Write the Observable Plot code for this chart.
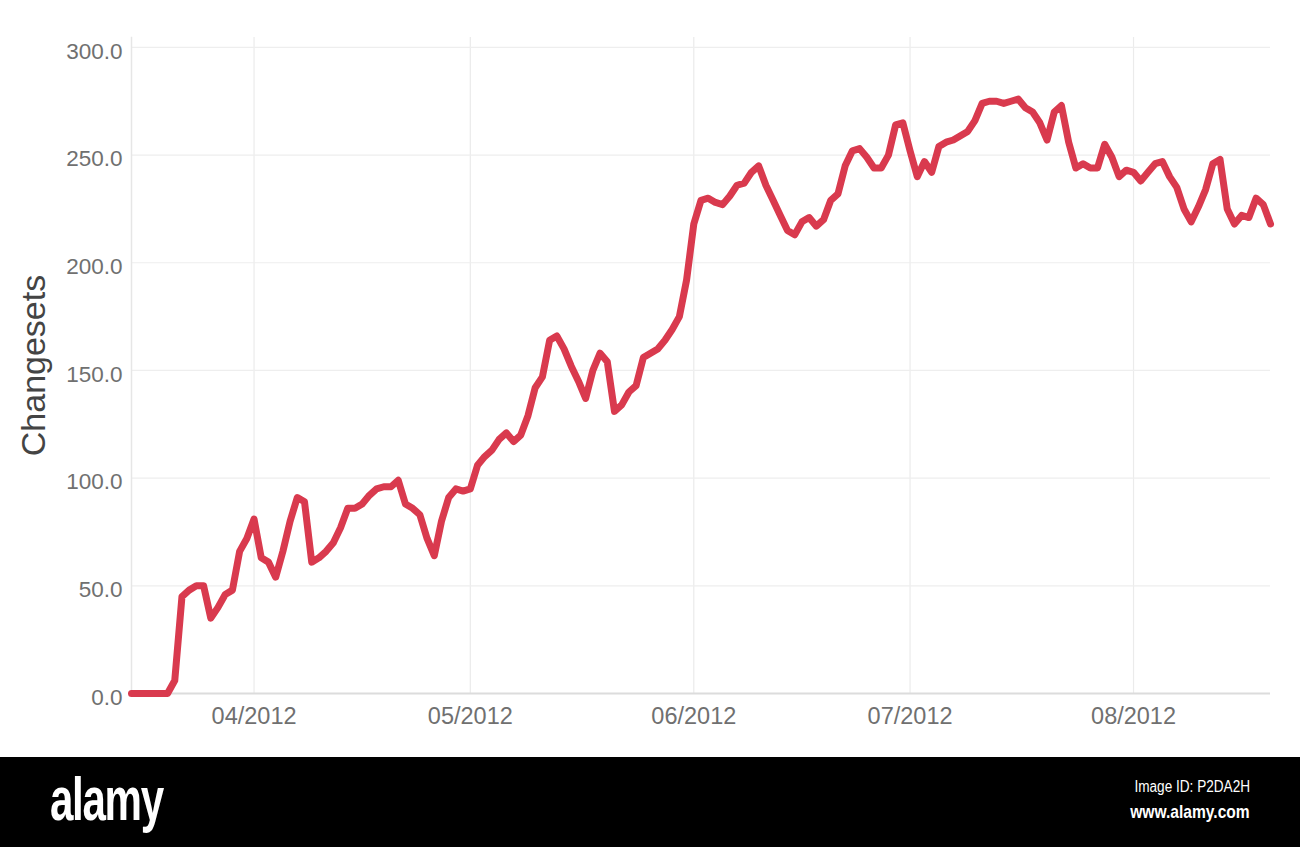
<!DOCTYPE html>
<html><head><meta charset="utf-8">
<script src="https://cdn.jsdelivr.net/npm/d3@7"></script>
<script src="https://cdn.jsdelivr.net/npm/@observablehq/plot@0.6"></script>
<style>
html,body{margin:0;padding:0;background:#fff}
body{width:1300px;height:847px;overflow:hidden;font-family:"Liberation Sans",Arial,sans-serif}
#chart{height:757px}
#footer{height:90px;background:#000;position:relative;color:#fff;font-family:"Liberation Sans",Arial,sans-serif}
#logo{position:absolute;left:50px;top:6px;font-weight:bold;font-size:62px;letter-spacing:-2px;transform:scaleX(0.68);transform-origin:left top}
#imgid{position:absolute;right:50px;top:21px;font-size:16px;transform:scaleX(0.85);transform-origin:right top}
#www{position:absolute;right:50px;top:44px;font-weight:bold;font-size:19px;transform:scaleX(0.82);transform-origin:right top}
</style></head>
<body>
<div id="chart"></div>
<div id="footer"><div id="logo">alamy</div><div id="imgid">Image ID: P2DA2H</div><div id="www">www.alamy.com</div></div>
<script>
const dates = ["2012-03-15","2012-03-20","2012-03-21","2012-03-22","2012-03-23","2012-03-24","2012-03-25","2012-03-26","2012-03-27","2012-03-28","2012-03-29","2012-03-30","2012-03-31",
"2012-04-01","2012-04-02","2012-04-03","2012-04-04","2012-04-05","2012-04-06","2012-04-07","2012-04-08","2012-04-09","2012-04-10","2012-04-11","2012-04-12","2012-04-13","2012-04-14","2012-04-15","2012-04-16","2012-04-17","2012-04-18","2012-04-19","2012-04-20","2012-04-21","2012-04-22","2012-04-23","2012-04-24","2012-04-25","2012-04-26","2012-04-27","2012-04-28","2012-04-29","2012-04-30",
"2012-05-01","2012-05-02","2012-05-03","2012-05-04","2012-05-05","2012-05-06","2012-05-07","2012-05-08","2012-05-09","2012-05-10","2012-05-11","2012-05-12","2012-05-13","2012-05-14","2012-05-15","2012-05-16","2012-05-17","2012-05-18","2012-05-19","2012-05-20","2012-05-21","2012-05-22","2012-05-23","2012-05-24","2012-05-25","2012-05-26","2012-05-27","2012-05-28","2012-05-29","2012-05-30","2012-05-31",
"2012-06-01","2012-06-02","2012-06-03","2012-06-04","2012-06-05","2012-06-06","2012-06-07","2012-06-08","2012-06-09","2012-06-10","2012-06-11","2012-06-12","2012-06-13","2012-06-14","2012-06-15","2012-06-16","2012-06-17","2012-06-18","2012-06-19","2012-06-20","2012-06-21","2012-06-22","2012-06-23","2012-06-24","2012-06-25","2012-06-26","2012-06-27","2012-06-28","2012-06-29","2012-06-30",
"2012-07-01","2012-07-02","2012-07-03","2012-07-04","2012-07-05","2012-07-06","2012-07-07","2012-07-08","2012-07-09","2012-07-10","2012-07-11","2012-07-12","2012-07-13","2012-07-14","2012-07-15","2012-07-16","2012-07-17","2012-07-18","2012-07-19","2012-07-20","2012-07-21","2012-07-22","2012-07-23","2012-07-24","2012-07-25","2012-07-26","2012-07-27","2012-07-28","2012-07-29","2012-07-30","2012-07-31",
"2012-08-01","2012-08-02","2012-08-03","2012-08-04","2012-08-05","2012-08-06","2012-08-07","2012-08-08","2012-08-09","2012-08-10","2012-08-11","2012-08-12","2012-08-13","2012-08-14","2012-08-15","2012-08-16","2012-08-17","2012-08-18","2012-08-19","2012-08-20"];
const changesets = [0,0,6,45,48,50,50,35,40,46,48,66,72,
81,63,61,54,66,80,91,89,61,63,66,70,77,86,86,88,92,95,96,96,99,88,86,83,72,64,80,91,95,94,
95,106,110,113,118,121,117,120,129,142,147,164,166,160,152,145,137,150,158,154,131,134,140,143,156,158,160,164,169,175,192,
218,229,230,228,227,231,236,237,242,245,236,229,222,215,213,219,221,217,220,229,232,245,252,253,249,244,244,250,264,265,
252,240,247,242,254,256,257,259,261,266,274,275,275,274,275,276,272,270,265,257,270,273,256,244,246,244,244,255,249,240,243,
242,238,242,246,247,240,235,225,219,226,234,246,248,225,218,222,221,230,227,218];
const xTicks = ["2012-04-01","2012-05-01","2012-06-01","2012-07-01","2012-08-01"];
const yTicks = [0,50,100,150,200,250,300];
const xDomain = ["2012-03-15","2012-08-20"];
const yLabel = "Changesets";

const data = dates.map((d,i) => ({date: new Date(d), value: changesets[i]}));

const chart = Plot.plot({
  width: 1300,
  height: 757,
  marginLeft: 131,
  marginRight: 30,
  marginTop: 37,
  marginBottom: 64,
  style: {fontFamily: "'Liberation Sans', Arial, sans-serif", background: "#fff", color: "#777"},
  x: {type: "utc", domain: xDomain.map(d => new Date(d))},
  y: {domain: [0, 304.6]},
  marks: [
    Plot.gridX(xTicks.map(d => new Date(d)), {stroke: "#ebebeb", strokeOpacity: 1, strokeWidth: 1.2}),
    Plot.gridY(yTicks, {stroke: "#eeeeee", strokeOpacity: 1, strokeWidth: 1.2}),
    Plot.frame({anchor: "left", stroke: "#e6e6e6", strokeWidth: 1.5}),
    Plot.ruleY([0], {stroke: "#dcdcdc", strokeWidth: 2}),
    Plot.axisX(xTicks.map(d => new Date(d)), {tickSize: 0, tickPadding: 14, fontSize: 23.5, fill: "#707070", tickFormat: d3.utcFormat("%m/%Y"), label: null}),
    Plot.axisY(yTicks, {tickSize: 0, tickPadding: 9, fontSize: 22.5, fill: "#707070", dy: 4, tickFormat: d3.format(".1f"), label: null}),
    Plot.text([yLabel], {frameAnchor: "left", dx: -97, rotate: -90, textAnchor: "middle", lineAnchor: "middle", fontSize: 34, fill: "#444"}),
    Plot.lineY(data, {x: "date", y: "value", stroke: "#d93a4e", strokeWidth: 7, strokeLinejoin: "round", strokeLinecap: "round"})
  ]
});
document.getElementById("chart").appendChild(chart);
</script>
</body></html>
